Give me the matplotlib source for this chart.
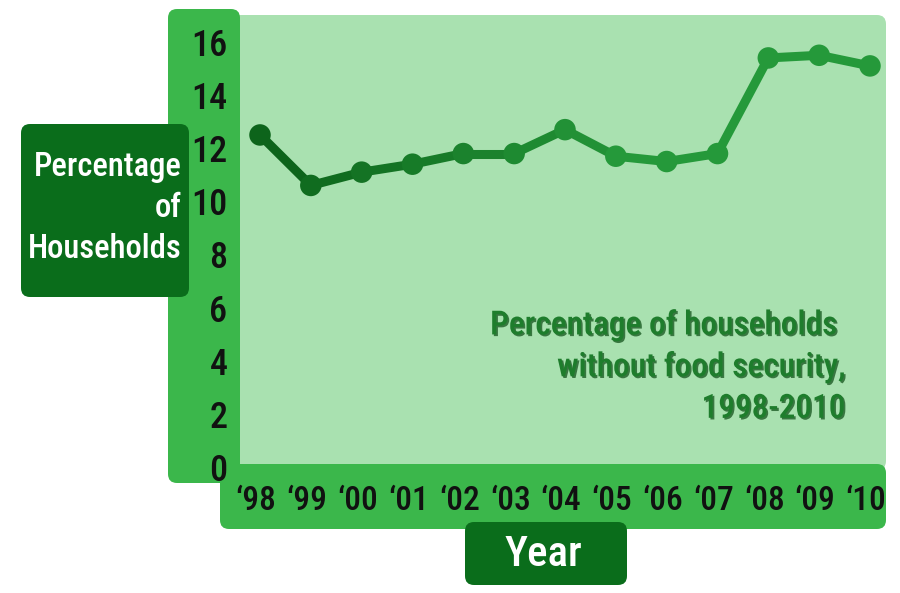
import matplotlib
matplotlib.use("Agg")
import matplotlib.pyplot as plt
from matplotlib import font_manager as fm
from matplotlib.patches import FancyBboxPatch
from matplotlib.transforms import Affine2D, ScaledTranslation
import matplotlib.patheffects as pe
import numpy as np

# ---- data ----
year_labels = ["\u201898", "\u201899", "\u201800", "\u201801", "\u201802", "\u201803", "\u201804",
               "\u201805", "\u201806", "\u201807", "\u201808", "\u201809", "\u201810"]
pct_values = [12.5, 10.6, 11.1, 11.4, 11.8, 11.8, 12.7, 11.7, 11.5, 11.8, 15.4, 15.5, 15.1]
y_ticks = [0, 2, 4, 6, 8, 10, 12, 14, 16]

# ---- font choice ----
names = {f.name for f in fm.fontManager.ttflist}
font = "DejaVu Sans"
for cand in ["Roboto Condensed", "Liberation Sans Narrow", "Open Sans Condensed", "Noto Sans Condensed"]:
    if cand in names:
        font = cand
        break
plt.rcParams["font.family"] = [font, "DejaVu Sans"]
plt.rcParams["font.weight"] = "medium"

W, H = 900, 593
fig = plt.figure(figsize=(W / 100, H / 100), dpi=100)
fig.patch.set_facecolor("white")
px = Affine2D().scale(1 / 100) + fig.dpi_scale_trans  # pixel coords, origin bottom-left

MED = "#3bb74b"
LIGHT = "#a9e1b0"
DARK = "#0a6d1b"


def box(x0, y0, x1, y1, color, r=8, z=0):
    # coordinates given with y measured from top
    p = FancyBboxPatch((x0, H - y1), x1 - x0, y1 - y0,
                       boxstyle=f"round,pad=0,rounding_size={r}",
                       transform=px, facecolor=color, edgecolor="none", zorder=z)
    fig.patches.append(p)


box(232, 15, 886, 470, LIGHT, r=9, z=0)      # plot area
box(168, 9, 240, 483, MED, r=9, z=1)         # y axis band
box(220, 464, 886, 529, MED, r=9, z=2)       # x axis band
box(21, 124, 189, 297, DARK, r=9, z=3)       # y label box
box(465, 522, 627, 585, DARK, r=9, z=3)      # x label box

# ---- axes: x index 0..12 -> px 260..870 ; y 0..16 -> px 467..42 ----
ax_l, ax_r = 240, 886
ax_t, ax_b = 14, 467
ax = fig.add_axes([ax_l / W, 1 - ax_b / H, (ax_r - ax_l) / W, (ax_b - ax_t) / H])
ax.set_zorder(5)
ax.patch.set_visible(False)
xs = np.arange(len(pct_values))
ppx = (870 - 260) / 12
ax.set_xlim(-(260 - ax_l) / ppx, 12 + (ax_r - 870) / ppx)
ppy = (467 - 42) / 16
ax.set_ylim(0, (ax_b - ax_t) / ppy)
for s in ax.spines.values():
    s.set_visible(False)

# line with gradient from dark to medium green
c0 = np.array(matplotlib.colors.to_rgb("#0d641b"))
c1 = np.array(matplotlib.colors.to_rgb("#25993a"))
n = len(pct_values)
cols = [tuple(c0 + (c1 - c0) * min(1, i / 7)) for i in range(n)]
for i in range(n - 1):
    ax.plot(xs[i:i + 2], pct_values[i:i + 2], color=cols[i], lw=6.5,
            solid_capstyle="round", zorder=3, clip_on=False)
ax.scatter(xs, pct_values, s=240, c=cols, zorder=4, clip_on=False, linewidths=0)

ax.set_yticks(y_ticks)
ax.set_yticklabels([str(t) for t in y_ticks])
ax.set_xticks(xs)
ax.set_xticklabels(year_labels)
ax.tick_params(axis="y", length=0, pad=9, labelsize=26, labelcolor="#111111")
ax.tick_params(axis="x", length=0, pad=13, labelsize=24, labelcolor="#111111")
shift = ScaledTranslation(-4 / 100, 0, fig.dpi_scale_trans)
for lbl in ax.get_xticklabels():
    lbl.set_transform(lbl.get_transform() + shift)

# axis titles
fig.text(182 / W, 1 - 208 / H, "Percentage\nof\nHouseholds", ha="right", va="center",
         color="white", fontsize=23.5, linespacing=1.35, zorder=6)
fig.text(543 / W, 1 - 554 / H, "Year", ha="center", va="center",
         color="white", fontsize=31, zorder=6)

# annotation
fig.text(846 / W, 1 - 367 / H, "Percentage of households \nwithout food security,\n1998-2010",
         ha="right", va="center", color="#1e7d2c", fontsize=24, linespacing=1.38, zorder=6,
         path_effects=[pe.withSimplePatchShadow(offset=(1.2, -1.2), shadow_rgbFace="#0a4a12", alpha=0.7)])

fig.savefig("out.png", dpi=100)
